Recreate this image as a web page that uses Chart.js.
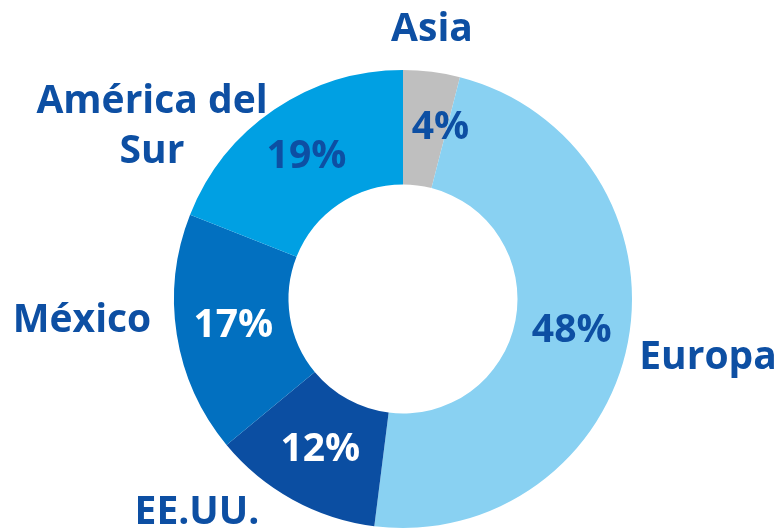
<!DOCTYPE html>
<html>
<head>
<meta charset="utf-8">
<script src="https://cdn.jsdelivr.net/npm/chart.js@4"></script>
<style>
  html, body { margin: 0; padding: 0; background: #ffffff; }
  #wrap { position: relative; width: 781px; height: 530px; }
</style>
</head>
<body>
<div id="wrap"><canvas id="c" width="781" height="530"></canvas></div>
<script>
// Regional split of the business, in percent
const regions = ["Asia", "Europa", "EE.UU.", "México", "América del Sur"];
const shares = [4, 48, 12, 17, 19];

const sliceColors = ["#bfbfbf", "#89d1f2", "#0b4ea2", "#0270c0", "#00a0e3"];
const pctColors = ["#0d4fa3", "#0d4fa3", "#ffffff", "#ffffff", "#0d4fa3"];
const textBlue = "#0d4fa3";
const FONT = "bold 39px 'Open Sans', 'Noto Sans', sans-serif";

// Where each region name sits outside the ring (lines split on \n)
const nameSpots = [
  { x: 432, y: 41, lines: ["Asia"] },
  { x: 708, y: 369, lines: ["Europa"] },
  { x: 197, y: 524, lines: ["EE.UU."] },
  { x: 82, y: 332, lines: ["México"] },
  { x: 152, y: 113, lines: ["América del", "Sur"] }
];
// Small nudges for the percentage text inside narrow slices
const pctNudge = [{ dx: 16, dy: -1 }, { dx: 0, dy: 0 }, { dx: 0, dy: 0 }, { dx: 0, dy: 0 }, { dx: 0, dy: 0 }];

const labelPlugin = {
  id: "ringLabels",
  afterDatasetsDraw(chart) {
    const ctx = chart.ctx;
    const meta = chart.getDatasetMeta(0);
    ctx.save();
    ctx.font = FONT;
    ctx.textAlign = "center";
    ctx.textBaseline = "middle";
    meta.data.forEach((arc, i) => {
      const p = arc.tooltipPosition();
      ctx.fillStyle = pctColors[i];
      ctx.fillText(shares[i] + "%", p.x + pctNudge[i].dx, p.y + pctNudge[i].dy);
    });
    ctx.textBaseline = "alphabetic";
    ctx.fillStyle = textBlue;
    nameSpots.forEach((s) => {
      s.lines.forEach((line, k) => {
        ctx.fillText(line, s.x, s.y + k * 50);
      });
    });
    ctx.restore();
  }
};

new Chart(document.getElementById("c"), {
  type: "doughnut",
  data: {
    labels: regions,
    datasets: [{
      data: shares,
      backgroundColor: sliceColors,
      borderWidth: 0
    }]
  },
  options: {
    responsive: false,
    animation: false,
    cutout: "50%",
    layout: { padding: { top: 70, bottom: 2, left: 172, right: 147 } },
    plugins: { legend: { display: false }, tooltip: { enabled: false } }
  },
  plugins: [labelPlugin]
});
</script>
</body>
</html>
